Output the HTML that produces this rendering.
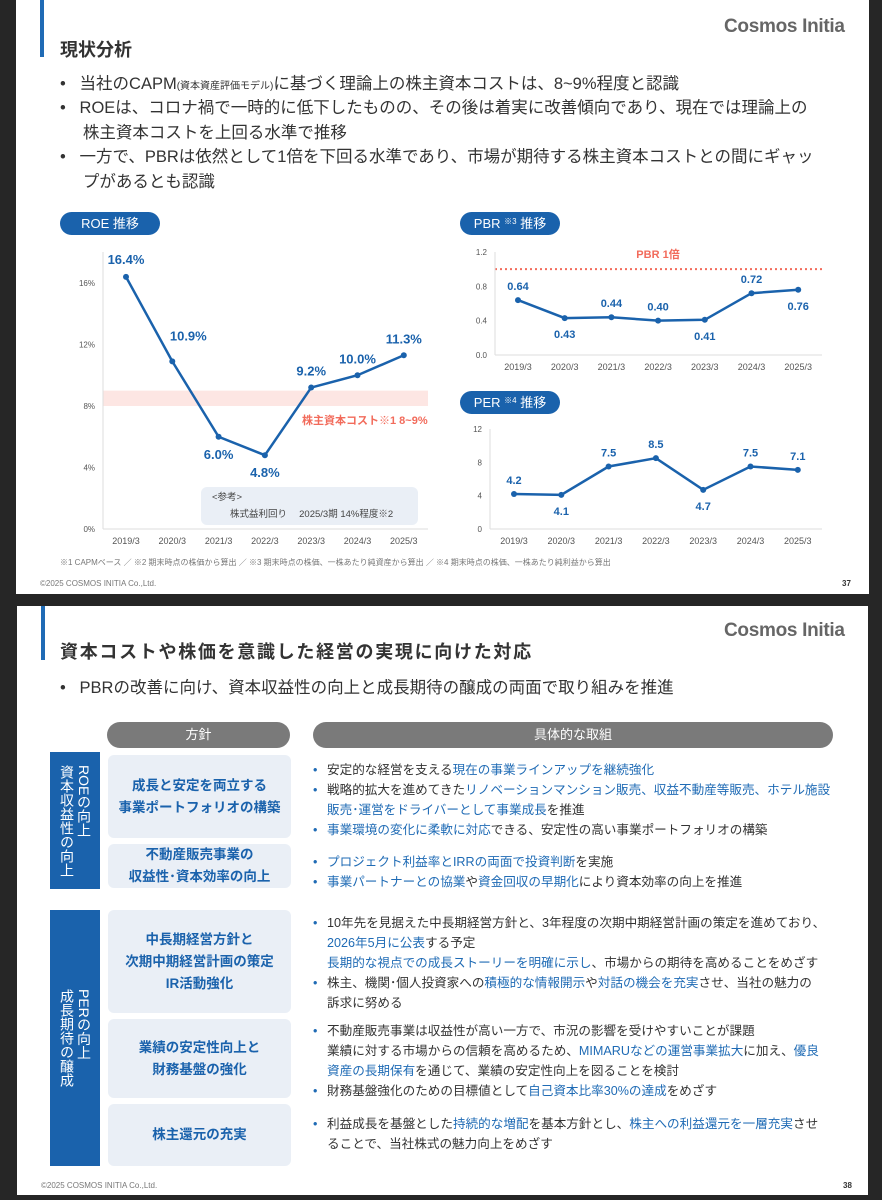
<!DOCTYPE html>
<html><head><meta charset="utf-8">
<style>
*{margin:0;padding:0;box-sizing:border-box}
body{width:882px;height:1200px;background:#262626;position:relative;overflow:hidden;font-family:"Liberation Sans","Noto Sans CJK JP",sans-serif;color:#333}
.slide{position:absolute;background:#fff}
.abs{position:absolute;white-space:nowrap}
.bar{position:absolute;background:#1f6bb5;width:4px}
.logo{position:absolute;font-size:19px;color:#666;font-weight:bold;letter-spacing:-0.3px}
.pill{position:absolute;background:#1a62ac;color:#fff;border-radius:12px;font-size:13px;text-align:center;line-height:23px;height:23px}
.pill sup{font-size:8px;line-height:0;vertical-align:4px}
.bl{position:absolute;font-size:16.5px;color:#333;white-space:nowrap;line-height:24.5px}
.b{color:#1f6bb5}
.foot{position:absolute;font-size:8px;color:#777}
.gh{position:absolute;background:#7a7a7a;color:#fff;border-radius:13px;text-align:center;font-size:13px;line-height:26px}
.band{position:absolute;background:#1a62ac;color:#fff;font-size:14px;writing-mode:vertical-rl;line-height:17px;display:flex;align-items:center;justify-content:center}
.box{position:absolute;background:#eaeff6;border-radius:6px;color:#1a62ac;font-size:13.5px;font-weight:bold;text-align:center;display:flex;align-items:center;justify-content:center;line-height:22px}
.rt{position:absolute;font-size:12.6px;line-height:20px;color:#333;white-space:nowrap}
.rt div{position:relative;padding-left:14px}
.rt .d:before{content:"•";position:absolute;left:0;color:#1f6bb5}
</style></head><body>
<div class="slide" style="left:16px;top:0;width:853px;height:594px">
  <div class="bar" style="left:24px;top:0;height:57px"></div>
  <div class="logo" style="left:708px;top:16px">Cosmos Initia</div>
  <div class="abs" style="left:44px;top:36px;font-size:18px;font-weight:bold">現状分析</div>
  <div class="bl" style="left:44px;top:72px">•&nbsp;&nbsp;&nbsp;当社のCAPM<span style="font-size:10px">(資本資産評価モデル)</span>に基づく理論上の株主資本コストは、8~9%程度と認識</div>
  <div class="bl" style="left:44px;top:96px">•&nbsp;&nbsp;&nbsp;ROEは、コロナ禍で一時的に低下したものの、その後は着実に改善傾向であり、現在では理論上の<br>&nbsp;&nbsp;&nbsp;&nbsp;&nbsp;株主資本コストを上回る水準で推移</div>
  <div class="bl" style="left:44px;top:145px">•&nbsp;&nbsp;&nbsp;一方で、PBRは依然として1倍を下回る水準であり、市場が期待する株主資本コストとの間にギャッ<br>&nbsp;&nbsp;&nbsp;&nbsp;&nbsp;プがあるとも認識</div>
  <div class="pill" style="left:44px;top:212px;width:100px">ROE 推移</div>
  <div class="pill" style="left:444px;top:212px;width:100px">PBR <sup>※3</sup> 推移</div>
  <div class="pill" style="left:444px;top:391px;width:100px">PER <sup>※4</sup> 推移</div>
  <div class="foot" style="left:44px;top:557px">※1 CAPMベース ／ ※2 期末時点の株価から算出 ／ ※3 期末時点の株価、一株あたり純資産から算出 ／ ※4 期末時点の株価、一株あたり純利益から算出</div>
  <div class="foot" style="left:24px;top:579px">©2025 COSMOS INITIA Co.,Ltd.</div>
  <div class="foot" style="left:826px;top:579px;font-weight:bold;color:#333">37</div>
</div>
<svg id="charts" width="882" height="600" style="position:absolute;left:0;top:0"></svg>

<div class="slide" style="left:17px;top:606px;width:851px;height:589px">
  <div class="bar" style="left:24px;top:0;height:54px"></div>
  <div class="logo" style="left:707px;top:14px">Cosmos Initia</div>
  <div class="abs" style="left:43px;top:32px;font-size:18px;font-weight:bold;letter-spacing:1.7px">資本コストや株価を意識した経営の実現に向けた対応</div>
  <div class="bl" style="left:43px;top:70px">•&nbsp;&nbsp;&nbsp;PBRの改善に向け、資本収益性の向上と成長期待の醸成の両面で取り組みを推進</div>
  <div class="gh" style="left:90px;top:116px;width:183px">方針</div>
  <div class="gh" style="left:296px;top:116px;width:520px">具体的な取組</div>
  <div class="band" style="left:33px;top:146px;width:50px;height:137px">ROEの向上<br>資本収益性の向上</div>
  <div class="band" style="left:33px;top:304px;width:50px;height:256px">PERの向上<br>成長期待の醸成</div>
  <div class="box" style="left:91px;top:149px;width:183px;height:83px">成長と安定を両立する<br>事業ポートフォリオの構築</div>
  <div class="box" style="left:91px;top:238px;width:183px;height:44px">不動産販売事業の<br>収益性･資本効率の向上</div>
  <div class="box" style="left:91px;top:304px;width:183px;height:103px">中長期経営方針と<br>次期中期経営計画の策定<br>IR活動強化</div>
  <div class="box" style="left:91px;top:413px;width:183px;height:79px">業績の安定性向上と<br>財務基盤の強化</div>
  <div class="box" style="left:91px;top:498px;width:183px;height:62px">株主還元の充実</div>
  <div class="rt" style="left:296px;top:154px">
    <div class="d">安定的な経営を支える<span class="b">現在の事業ラインアップを継続強化</span></div>
    <div class="d">戦略的拡大を進めてきた<span class="b">リノベーションマンション販売、収益不動産等販売、ホテル施設</span></div>
    <div><span class="b">販売･運営をドライバーとして事業成長</span>を推進</div>
    <div class="d"><span class="b">事業環境の変化に柔軟に対応</span>できる、安定性の高い事業ポートフォリオの構築</div>
  </div>
  <div class="rt" style="left:296px;top:246px">
    <div class="d"><span class="b">プロジェクト利益率とIRRの両面で投資判断</span>を実施</div>
    <div class="d"><span class="b">事業パートナーとの協業</span>や<span class="b">資金回収の早期化</span>により資本効率の向上を推進</div>
  </div>
  <div class="rt" style="left:296px;top:307px">
    <div class="d">10年先を見据えた中長期経営方針と、3年程度の次期中期経営計画の策定を進めており、</div>
    <div><span class="b">2026年5月に公表</span>する予定</div>
    <div><span class="b">長期的な視点での成長ストーリーを明確に示し</span>、市場からの期待を高めることをめざす</div>
    <div class="d">株主、機関･個人投資家への<span class="b">積極的な情報開示</span>や<span class="b">対話の機会を充実</span>させ、当社の魅力の</div>
    <div>訴求に努める</div>
  </div>
  <div class="rt" style="left:296px;top:415px">
    <div class="d">不動産販売事業は収益性が高い一方で、市況の影響を受けやすいことが課題</div>
    <div>業績に対する市場からの信頼を高めるため、<span class="b">MIMARUなどの運営事業拡大</span>に加え、<span class="b">優良</span></div>
    <div><span class="b">資産の長期保有</span>を通じて、業績の安定性向上を図ることを検討</div>
    <div class="d">財務基盤強化のための目標値として<span class="b">自己資本比率30%の達成</span>をめざす</div>
  </div>
  <div class="rt" style="left:296px;top:508px">
    <div class="d">利益成長を基盤とした<span class="b">持続的な増配</span>を基本方針とし、<span class="b">株主への利益還元を一層充実</span>させ</div>
    <div>ることで、当社株式の魅力向上をめざす</div>
  </div>
  <div class="foot" style="left:24px;top:575px">©2025 COSMOS INITIA Co.,Ltd.</div>
  <div class="foot" style="left:826px;top:575px;font-weight:bold;color:#333">38</div>
</div>
<script>
const categories=["2019/3","2020/3","2021/3","2022/3","2023/3","2024/3","2025/3"];
const roeValues=[16.4,10.9,6.0,4.8,9.2,10.0,11.3];
const roeLabels=["16.4%","10.9%","6.0%","4.8%","9.2%","10.0%","11.3%"];
const roeTicks=[0,4,8,12,16];
const costBand=[8,9];
const pbrValues=[0.64,0.43,0.44,0.40,0.41,0.72,0.76];
const pbrTicks=[0,0.4,0.8,1.2];
const pbrTarget=1.0;
const perValues=[4.2,4.1,7.5,8.5,4.7,7.5,7.1];
const perTicks=[0,4,8,12];
const svg=document.getElementById('charts');
const NS='http://www.w3.org/2000/svg';
function mk(tag,at,txt){const e=document.createElementNS(NS,tag);for(const k in at)e.setAttribute(k,at[k]);if(txt!==undefined)e.textContent=txt;svg.appendChild(e);return e;}
function chart(o){
  const x=i=>o.x0+i*o.step;
  const y=v=>o.yb-(v-o.min)/(o.max-o.min)*(o.yb-o.yt);
  let e;
  if(o.band){e=mk('rect',{x:o.ax,y:y(o.band[1]),width:o.axEnd-o.ax,height:y(o.band[0])-y(o.band[1]),fill:'#fde6e3'});
  
  }
  if(o.target!==undefined){e=mk('line',{x1:o.ax,x2:o.axEnd,y1:y(o.target),y2:y(o.target),stroke:'#f26b5b','stroke-width':2,'stroke-dasharray':'2 3'});
  
  }
  mk('line',{x1:o.ax,x2:o.ax,y1:o.yTop,y2:o.yb,stroke:'#ddd'});
  mk('line',{x1:o.ax,x2:o.axEnd,y1:o.yb,y2:o.yb,stroke:'#ddd'});
  o.ticks.forEach(t=>{e=mk('text',{x:o.ax-8,y:y(t)+3,'font-size':8,'text-anchor':'end',fill:'#555'},o.fmt(t));
  
  });
  categories.forEach((c,i)=>{e=mk('text',{x:x(i),y:o.yb+15,'font-size':9,'text-anchor':'middle',fill:'#555'},c);
  
  });
  e=mk('polyline',{points:o.vals.map((v,i)=>x(i)+','+y(v)).join(' '),fill:'none',stroke:'#1a62ac','stroke-width':2.5});
  
  
  o.vals.forEach((v,i)=>{
    e=mk('circle',{cx:x(i),cy:y(v),r:3,fill:'#1a62ac'});
    
    
    const below=o.below[i];
    e=mk('text',{x:x(i)+(o.dx?o.dx[i]:0),y:below?y(v)+o.lb:y(v)-(o.ladj?o.ladj[i]:o.la),'font-size':o.fs,'font-weight':'bold','text-anchor':'middle',fill:'#1a62ac'},o.lab(i));
    
    
  });
}
chart({name:'roe',x0:126,step:46.3,yb:529,yt:283,min:0,max:16,ax:103,axEnd:428,yTop:252,ticks:roeTicks,fmt:t=>t+'%',vals:roeValues,band:costBand,below:[0,0,1,1,0,0,0],dx:[0,16,0,0,0,0,0],ladj:[13,21,12,12,12,12,12],lb:22,fs:13,lab:i=>roeLabels[i]});
chart({name:'pbr',x0:518,step:46.7,yb:355,yt:252,min:0,max:1.2,ax:495,axEnd:822,yTop:252,ticks:pbrTicks,fmt:t=>t.toFixed(1),vals:pbrValues,target:pbrTarget,below:[0,1,0,0,1,0,1],la:10,lb:20,fs:11,lab:i=>pbrValues[i].toFixed(2)});
chart({name:'per',x0:514,step:47.3,yb:529,yt:429,min:0,max:12,ax:490,axEnd:822,yTop:429,ticks:perTicks,fmt:t=>String(t),vals:perValues,below:[0,1,0,0,1,0,0],la:10,lb:20,fs:11,lab:i=>perValues[i].toFixed(1)});
let t=mk('text',{x:658,y:258,'font-size':11,'font-weight':'bold','text-anchor':'middle',fill:'#f26b5b'},'PBR 1倍');


t=mk('text',{x:302,y:424,'font-size':11,'font-weight':'bold',fill:'#f26b5b'},'株主資本コスト※1 8~9%');


let r=mk('rect',{x:201,y:487,width:217,height:38,rx:6,fill:'#eaeff6'});


t=mk('text',{x:212,y:500,'font-size':9.5,fill:'#444'},'<参考>');


t=mk('text',{x:230,y:517,'font-size':9.5,fill:'#444'},'株式益利回り　 2025/3期 14%程度※2');


</script>
</body></html>
